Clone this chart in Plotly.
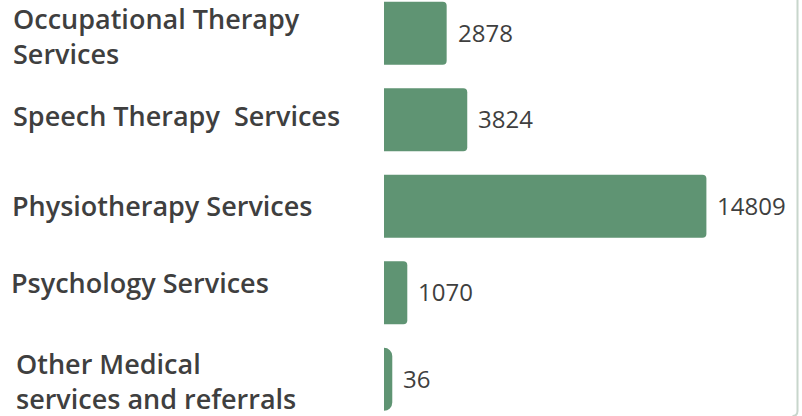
import plotly.graph_objects as go

# Service categories (top to bottom) and their counts
services = [
    "Occupational Therapy<br>Services",
    "Speech Therapy \u00a0Services",
    "Physiotherapy Services",
    "Psychology Services",
    "Other Medical<br>services and referrals",
]
counts = [2878, 3824, 14809, 1070, 36]

BAR_COLOR = "#5f9473"
TEXT_COLOR = "#3f3f3f"
FRAME_COLOR = "#c8d6cc"

W, H = 802, 416
LEFT = 384  # width of the label column
PITCH = 86.5  # pixels per category row
BAR_W = 0.73

def px_x(px):
    return (px - LEFT) / (W - LEFT)

def px_y(py):
    return 1 - py / H

cats = list(range(len(services)))

# very short bars get a same-coloured outline so they stay visible;
# their thickness is reduced by the outline so all bars look equally tall
outline = [15 if v < 200 else 0 for v in counts]
widths = [BAR_W - ow / PITCH for ow in outline]

fig = go.Figure(
    go.Bar(
        x=counts,
        y=cats,
        orientation="h",
        width=widths,
        marker=dict(color=BAR_COLOR, cornerradius=4,
                    line=dict(width=outline, color=BAR_COLOR)),
        hoverinfo="skip",
    )
)

# value labels just past the end of each bar
for c, v, ow in zip(cats, counts, outline):
    fig.add_annotation(
        x=v, y=c, xref="x", yref="y", text=str(v), showarrow=False,
        xanchor="left", yanchor="middle", xshift=9 + ow / 2, yshift=1,
        font=dict(family="Open Sans", size=24, color=TEXT_COLOR),
    )

# left-aligned category labels in their own column
label_pos = [(11, 36.5), (11, 115), (10, 205), (9, 282), (14, 381)]
for name, (lx, ly) in zip(services, label_pos):
    fig.add_annotation(
        x=px_x(lx), y=px_y(ly), xref="paper", yref="paper", text=name,
        showarrow=False, xanchor="left", yanchor="middle", align="left",
        font=dict(family="Open Sans", size=27, weight=600, color=TEXT_COLOR),
    )

# card outline on the right with a rounded bottom corner
fx = px_x(797.5)
r = 5
fig.add_shape(
    type="path", xref="paper", yref="paper",
    path=(f"M {fx} {px_y(-2)} L {fx} {px_y(416 - r)} "
          f"Q {fx} {px_y(416)} {px_x(797.5 - r)} {px_y(416)}"),
    line=dict(color=FRAME_COLOR, width=2),
)

top = -33.3 / PITCH
fig.update_layout(
    width=W, height=H,
    margin=dict(l=LEFT, r=0, t=0, b=0),
    paper_bgcolor="white", plot_bgcolor="white",
    showlegend=False,
    xaxis=dict(range=[0, 19200], visible=False, fixedrange=True),
    yaxis=dict(range=[top + H / PITCH, top], visible=False, fixedrange=True),
)

fig.write_html("out.html", config={"displayModeBar": False})
